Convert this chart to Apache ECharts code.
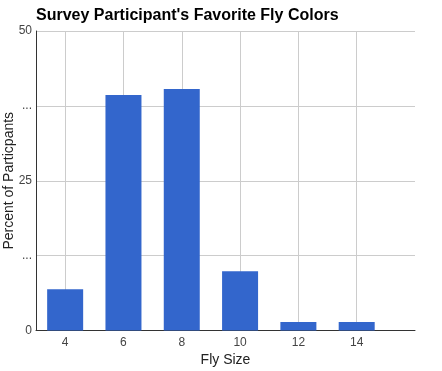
<!DOCTYPE html>
<html>
<head>
<meta charset="utf-8">
<script src="https://cdn.jsdelivr.net/npm/echarts@6/dist/echarts.min.js"></script>
<style>
html,body{margin:0;padding:0;background:#fff;}
#chart{width:442px;height:371px;}
</style>
</head>
<body>
<div id="chart"></div>
<script>
var flySizes = [4, 6, 8, 10, 12, 14];
var percentValues = [6.9, 39.3, 40.3, 9.9, 1.4, 1.4];
var yTickLabels = ["0", "...", "25", "...", "50"];
var titleText = "Survey Participant's Favorite Fly Colors";
var xAxisName = "Fly Size";
var yAxisName = "Percent of Particpants";

var chart = echarts.init(document.getElementById('chart'), null, {renderer: 'canvas'});
var seriesData = flySizes.map(function (s, i) { return [s, percentValues[i]]; });

chart.setOption({
  animation: false,
  title: {
    text: titleText,
    left: 36,
    top: 8,
    padding: 0,
    textStyle: {fontFamily: 'Liberation Sans, Arial', fontSize: 16, fontWeight: 'bold', color: '#000'}
  },
  grid: {left: 36, right: 27, top: 31, bottom: 40.5, containLabel: false, outerBoundsMode: 'none'},
  xAxis: {
    type: 'value',
    min: 3,
    max: 16,
    name: xAxisName,
    nameLocation: 'middle',
    nameGap: 23,
    nameMoveOverlap: false,
    nameTextStyle: {fontFamily: 'Liberation Sans, Arial', fontSize: 14, color: '#222'},
    axisLine: {show: true, lineStyle: {color: '#333', width: 1}},
    axisTick: {show: false, customValues: flySizes},
    axisLabel: {customValues: flySizes, fontFamily: 'Liberation Sans, Arial', fontSize: 12, color: '#444', margin: 6},
    splitLine: {show: true, lineStyle: {color: '#ccc', width: 1}}
  },
  yAxis: {
    type: 'value',
    min: 0,
    max: 50,
    interval: 12.5,
    name: yAxisName,
    nameLocation: 'middle',
    nameGap: 20,
    nameMoveOverlap: false,
    nameTextStyle: {fontFamily: 'Liberation Sans, Arial', fontSize: 14, color: '#222'},
    axisLine: {show: true, lineStyle: {color: '#333', width: 1}},
    axisTick: {show: false},
    axisLabel: {
      fontFamily: 'Liberation Sans, Arial', fontSize: 12, color: '#444', margin: 4,
      formatter: function (v) { return yTickLabels[Math.round(v / 12.5)]; }
    },
    splitLine: {show: true, lineStyle: {color: '#ccc', width: 1}}
  },
  series: [{
    type: 'bar',
    data: seriesData,
    barWidth: 36,
    itemStyle: {color: '#3366cc'}
  }]
});
</script>
</body>
</html>
